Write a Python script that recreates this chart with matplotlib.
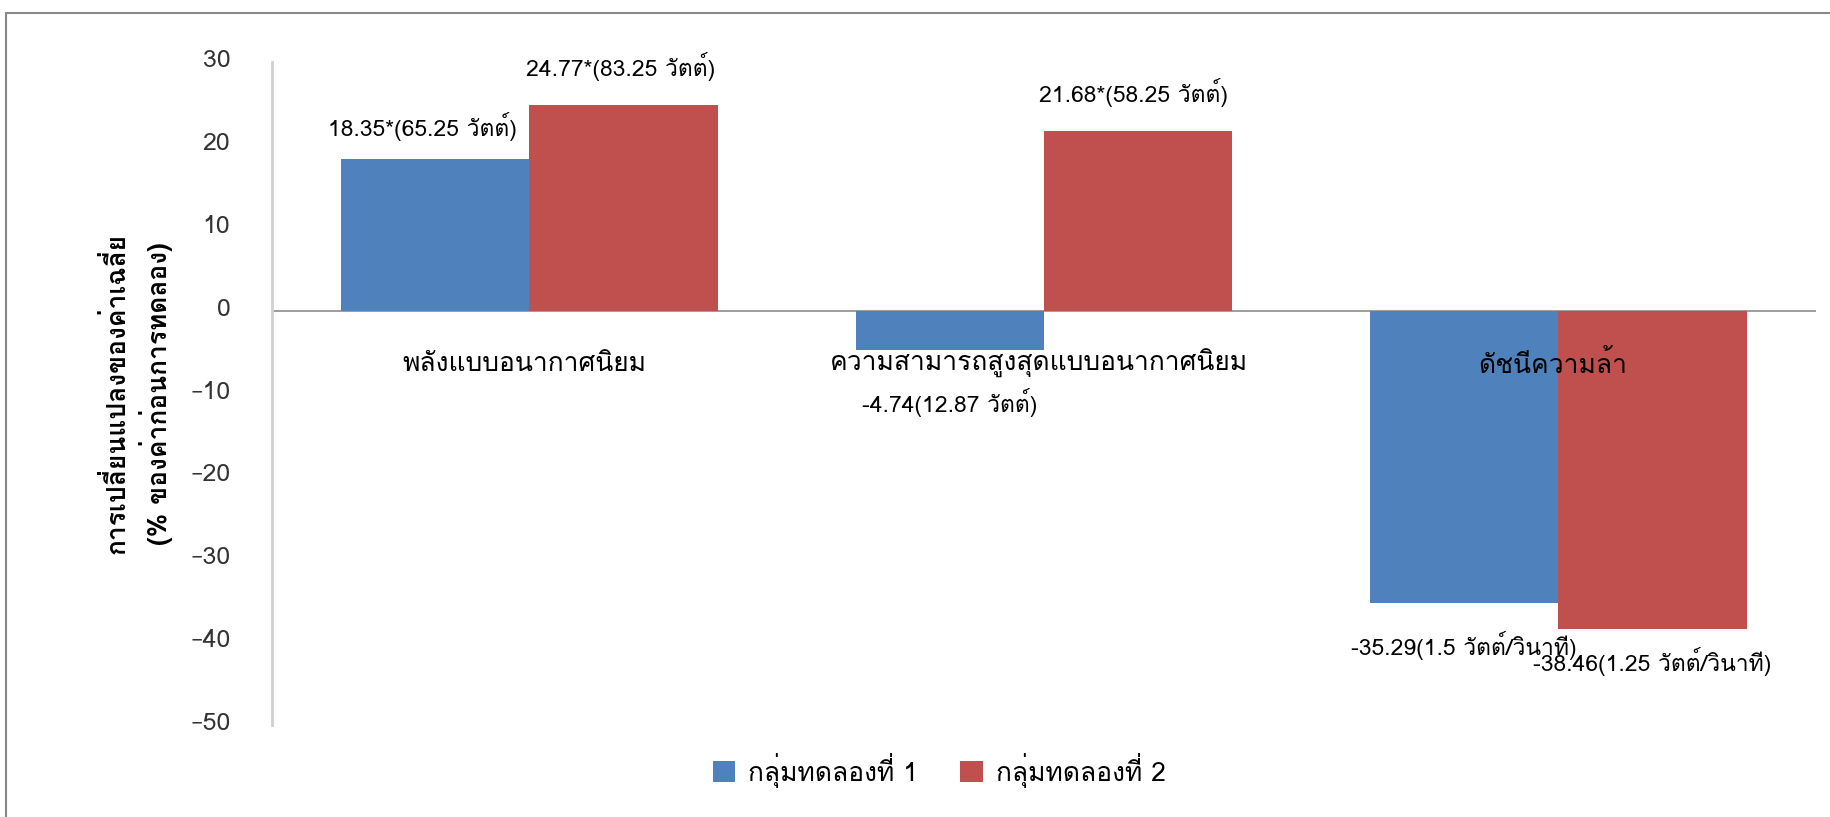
import numpy as np
import matplotlib
matplotlib.use('Agg')
import matplotlib.pyplot as plt
import matplotlib.transforms as mtransforms
from matplotlib import font_manager
from matplotlib.ft2font import FT2Font
from matplotlib.patches import Rectangle

# ข้อมูล
categories = ['พลังแบบอนากาศนิยม', 'ความสามารถสูงสุดแบบอนากาศนิยม', 'ดัชนีความล้า']
group1 = [18.35, -4.74, -35.29]
group2 = [24.77, 21.68, -38.46]
labels1 = ['18.35*(65.25 วัตต์)', '-4.74(12.87 วัตต์)', '-35.29(1.5 วัตต์/วินาที)']
labels2 = ['24.77*(83.25 วัตต์)', '21.68*(58.25 วัตต์)', '-38.46(1.25 วัตต์/วินาที)']
series_names = ['กลุ่มทดลองที่ 1', 'กลุ่มทดลองที่ 2']
yticks = [30, 20, 10, 0, -10, -20, -30, -40, -50]


# หาฟอนต์ที่มีอักษรไทย
def find_thai_font():
    found = []
    for f in font_manager.fontManager.ttflist:
        try:
            ft = FT2Font(f.fname)
            cmap = ft.get_charmap()
            if ord('ก') in cmap and ord('ต') in cmap and f.name not in found:
                found.append(f.name)
        except Exception:
            pass
    return found


plt.rcParams['font.family'] = find_thai_font() + ['DejaVu Sans']

fig = plt.figure(figsize=(18.31, 8.17), dpi=100)
ax = fig.add_axes([0.1486, 0.1126, 0.843, 0.8115])

x = np.arange(len(categories))
w = 0.366
blue = '#4F81BD'
red = '#C0504D'
b1 = ax.bar(x - w / 2, group1, w, color=blue, label=series_names[0], zorder=2)
b2 = ax.bar(x + w / 2, group2, w, color=red, label=series_names[1], zorder=2)

ax.set_xlim(-0.5, 2.5)
ax.set_ylim(-50, 30)
ax.set_yticks(yticks)
ax.set_xticks([])
ax.tick_params(axis='y', length=0, pad=30, labelsize=18, labelcolor='#333333')
# ยกป้ายแกน y ขึ้นเล็กน้อย
shift = mtransforms.ScaledTranslation(0, 4 / 100, fig.dpi_scale_trans)
for lab in ax.get_yticklabels():
    lab.set_transform(lab.get_transform() + shift)
for s in ['top', 'right', 'bottom']:
    ax.spines[s].set_visible(False)
ax.spines['left'].set_color('#d0d0d0')
ax.spines['left'].set_linewidth(2)
ax.axhline(0, color='#8c8c8c', lw=1.2, zorder=1)

# ชื่อหมวดหมู่ใต้เส้นศูนย์
for i, c in enumerate(categories):
    ax.text(i - 0.01, -6.4, c, ha='center', va='center', fontsize=19, zorder=5)

# ป้ายค่า
offs1 = [(-0.024, 3.9), (0.0, -6.3), (0.0, -5.1)]
offs2 = [(-0.006, 4.7), (-0.008, 4.66), (0.0, -3.9)]
for i in range(3):
    dx, dy = offs1[i]
    ax.text(x[i] - w / 2 + dx, group1[i] + dy, labels1[i], ha='center', va='center',
            fontsize=16.5, zorder=5)
    dx, dy = offs2[i]
    ax.text(x[i] + w / 2 + dx, group2[i] + dy, labels2[i], ha='center', va='center',
            fontsize=16.5, zorder=5)

ax.set_ylabel('การเปลี่ยนแปลงของค่าเฉลี่ย\n(% ของค่าก่อนการทดลอง)', fontsize=19,
              fontweight='bold', labelpad=12, linespacing=1.35)

fig.legend(handles=[b1, b2], labels=series_names, loc='center', bbox_to_anchor=(0.513, 0.057),
           ncol=2, frameon=False, fontsize=19, handlelength=0.85, handleheight=0.85,
           columnspacing=1.6, handletextpad=0.5)

# กรอบรอบแผนภูมิ
fig.patches.append(Rectangle((6 / 1831, -0.1), 1.2, 1 - 13 / 817 + 0.1, transform=fig.transFigure,
                             fill=False, edgecolor='#888888', lw=1.5))

fig.savefig('out.png', dpi=100)
